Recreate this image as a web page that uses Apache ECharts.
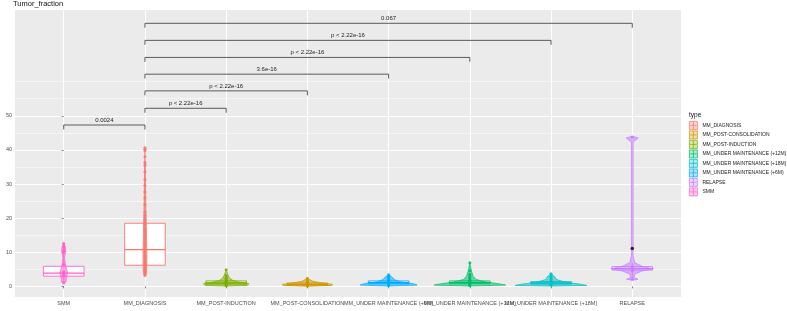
<!DOCTYPE html>
<html>
<head>
<meta charset="utf-8">
<script src="https://cdn.jsdelivr.net/npm/echarts@6/dist/echarts.min.js"></script>
<style>
html, body { margin: 0; padding: 0; background: #fff; }
#chart { width: 787px; height: 311px; }
</style>
</head>
<body>
<div id="chart"></div>
<script>
// phases on the x axis, in plot order
const phases = ['SMM', 'MM_DIAGNOSIS', 'MM_POST-INDUCTION', 'MM_POST-CONSOLIDATION',
  'MM_UNDER MAINTENANCE (+6M)', 'MM_UNDER MAINTENANCE (+12M)', 'MM_UNDER MAINTENANCE (+18M)', 'RELAPSE']
const phaseColors = ['#FF61CC', '#F8766D', '#7CAE00', '#CD9600', '#00A9FF', '#00BE67', '#00BFC4', '#C77CFF']
// legend is alphabetical like ggplot
const legendOrder = ['MM_DIAGNOSIS', 'MM_POST-CONSOLIDATION', 'MM_POST-INDUCTION',
  'MM_UNDER MAINTENANCE (+12M)', 'MM_UNDER MAINTENANCE (+18M)', 'MM_UNDER MAINTENANCE (+6M)', 'RELAPSE', 'SMM']

// min, Q1, median, Q3, max (whiskers)
const boxStats = [
  [1.0, 3.0, 3.9, 5.9, 10.1],
  [3.2, 6.2, 10.8, 18.5, 36.3],
  [0.2, 0.7, 1.0, 1.6, 2.6],
  [0.1, 0.4, 0.6, 1.0, 1.8],
  [0.3, 0.8, 1.1, 1.6, 2.5],
  [0.3, 0.8, 1.1, 1.6, 2.6],
  [0.4, 0.7, 1.0, 1.4, 2.0],
  [2.1, 4.8, 5.2, 5.8, 7.0]
]

// individual samples
const pointValues = [
  [12.6, 12.1, 11.4, 10.6, 10.1, 6.4, 4.3, 4.0, 3.8, 3.3, 1.0],
  [40.6, 40.2, 39.8, 38.0, 36.3, 35.5, 33.6, 31.3, 29.6, 27.7, 25.9, 24.0, 21.8, 20.8, 19.9, 19.3,
    18.6, 18.0, 17.2, 16.5, 16.0, 15.4, 14.8, 14.1, 13.5, 12.8, 12.2, 11.6, 11.0, 10.4, 9.8, 9.2,
    8.6, 8.0, 7.5, 7.0, 6.5, 6.0, 5.5, 5.0, 4.5, 4.0, 3.6, 3.2],
  [4.9, 3.2, 2.6, 2.2, 1.9, 1.6, 1.4, 1.2, 1.0, 0.8, 0.6, 0.4, 0.2],
  [2.4, 1.8, 1.4, 1.1, 0.9, 0.7, 0.5, 0.3, 0.1],
  [3.4, 2.9, 2.5, 2.0, 1.6, 1.3, 1.0, 0.8, 0.5, 0.3],
  [6.9, 4.6, 3.6, 3.0, 2.6, 2.2, 1.8, 1.5, 1.2, 1.0, 0.8, 0.5, 0.3],
  [3.7, 3.0, 2.5, 2.0, 1.6, 1.3, 1.0, 0.7, 0.4],
  [43.8, 5.8, 5.3, 5.0, 4.6, 2.1]
]
const outlierPoints = [[7, 11.1]]

// violin outline: [value, half width in category units]
const violinProfiles = [
  [[1.0, 0], [1.3, 0.03], [2.0, 0.03], [3.0, 0.035], [4.0, 0.05], [5.0, 0.035], [6.5, 0.02], [8.5, 0.01], [10.2, 0.025], [11.5, 0.022], [12.6, 0]],
  [[3.2, 0], [4.0, 0.02], [8.0, 0.025], [14.0, 0.02], [25.0, 0.01], [40.6, 0]],
  [[0.1, 0], [0.3, 0.26], [0.8, 0.28], [1.2, 0.17], [1.8, 0.08], [2.5, 0.04], [3.5, 0.02], [4.9, 0]],
  [[0.05, 0], [0.3, 0.3], [0.6, 0.31], [1.0, 0.18], [1.5, 0.07], [2.0, 0.03], [2.4, 0]],
  [[0.1, 0], [0.4, 0.35], [0.8, 0.3], [1.3, 0.15], [2.0, 0.07], [2.8, 0.04], [3.4, 0]],
  [[0.1, 0], [0.4, 0.44], [0.8, 0.35], [1.3, 0.2], [2.0, 0.08], [3.0, 0.04], [4.5, 0.02], [6.9, 0]],
  [[0.1, 0], [0.3, 0.44], [0.7, 0.35], [1.2, 0.18], [2.0, 0.07], [3.0, 0.04], [3.7, 0]],
  [[1.8, 0], [2.1, 0.07], [2.6, 0.02], [3.6, 0.03], [4.5, 0.12], [5.2, 0.26], [5.9, 0.12], [7.0, 0.03], [9.0, 0.01], [42.3, 0.01], [43.5, 0.075], [44.0, 0]]
]

// pairwise comparisons
const bracketFrom = [0, 1, 1, 1, 1, 1, 1]
const bracketTo = [1, 2, 3, 4, 5, 6, 7]
const bracketY = [47.3, 52.2, 57.3, 62.2, 67.1, 72.1, 77.1]
const bracketLabels = ['0.0024', 'p < 2.22e-16', 'p < 2.22e-16', '3.6e-16', 'p < 2.22e-16', 'p < 2.22e-16', '0.067']

const yTicks = [0, 10, 20, 30, 40, 50]
const yMinorLines = [5, 15, 25, 35, 45, 55, 60]
const xTicks = [0, 1, 2, 3, 4, 5, 6, 7]

const FONT = '"Liberation Sans", Arial, sans-serif'
const BOX_HALF = 0.25
const TIP = 1.3

function rgba (hex, a) {
  const n = parseInt(hex.slice(1), 16)
  return `rgba(${(n >> 16) & 255},${(n >> 8) & 255},${n & 255},${a})`
}

const chart = echarts.init(document.getElementById('chart'), null, { renderer: 'canvas' })

const series = []

// boxes
series.push({
  type: 'custom',
  name: '_box',
  z: 2,
  silent: true,
  data: boxStats.map((b, i) => [i].concat(b)),
  encode: { x: 0, y: [1, 5] },
  renderItem (params, api) {
    const i = api.value(0)
    const c = phaseColors[i]
    const mid = api.coord([i, api.value(3)])
    const lo = api.coord([i, api.value(1)])
    const q1 = api.coord([i - BOX_HALF, api.value(2)])
    const q3 = api.coord([i + BOX_HALF, api.value(4)])
    const hi = api.coord([i, api.value(5)])
    const style = { stroke: c, lineWidth: 0.9, fill: null }
    return {
      type: 'group',
      children: [
        { type: 'line', shape: { x1: lo[0], y1: lo[1], x2: lo[0], y2: q1[1] }, style },
        { type: 'line', shape: { x1: hi[0], y1: q3[1], x2: hi[0], y2: hi[1] }, style },
        { type: 'rect', shape: { x: q1[0], y: q3[1], width: q3[0] - q1[0], height: q1[1] - q3[1] }, style: { stroke: c, lineWidth: 0.9, fill: '#fff' } },
        { type: 'line', shape: { x1: q1[0], y1: mid[1], x2: q3[0], y2: mid[1] }, style: { stroke: c, lineWidth: 1.3 } }
      ]
    }
  }
})

// violins
series.push({
  type: 'custom',
  name: '_violin',
  z: 3,
  silent: true,
  data: phases.map((p, i) => [i, 0]),
  encode: { x: 0, y: 1 },
  renderItem (params, api) {
    const i = api.value(0)
    const prof = violinProfiles[i]
    const right = prof.map(p => api.coord([i + p[1], p[0]]))
    const left = prof.slice().reverse().map(p => api.coord([i - p[1], p[0]]))
    return {
      type: 'polygon',
      shape: { points: right.concat(left) },
      style: { fill: rgba(phaseColors[i], 0.55), stroke: phaseColors[i], lineWidth: 0.7 }
    }
  }
})

// points, one series per phase so the legend picks them up
phases.forEach((p, i) => {
  series.push({
    type: 'scatter',
    name: p,
    z: 4,
    silent: true,
    symbolSize: 3,
    itemStyle: { color: phaseColors[i], opacity: 0.9 },
    data: pointValues[i].map(v => [i, v])
  })
})

series.push({
  type: 'scatter',
  name: '_outlier',
  z: 4,
  silent: true,
  symbolSize: 3.5,
  itemStyle: { color: '#000' },
  data: outlierPoints
})

// comparison brackets
series.push({
  type: 'custom',
  name: '_brackets',
  z: 5,
  silent: true,
  data: bracketY.map((y, k) => [bracketFrom[k], bracketTo[k], y]),
  encode: { x: [0, 1], y: 2 },
  renderItem (params, api) {
    const y = api.value(2)
    const a0 = api.coord([api.value(0), y - TIP])
    const a = api.coord([api.value(0), y])
    const b = api.coord([api.value(1), y])
    const b0 = api.coord([api.value(1), y - TIP])
    return {
      type: 'group',
      children: [
        { type: 'polyline', shape: { points: [a0, a, b, b0] }, style: { stroke: '#4a4a4a', lineWidth: 0.9, fill: null } },
        {
          type: 'text',
          style: {
            x: (a[0] + b[0]) / 2,
            y: a[1] - 2,
            text: bracketLabels[params.dataIndex],
            fill: '#222',
            font: '6px "Liberation Sans", Arial, sans-serif',
            align: 'center',
            verticalAlign: 'bottom'
          }
        }
      ]
    }
  }
})

const options = {
  animation: false,
  backgroundColor: '#fff',
  title: [
    { text: 'Tumor_fraction', left: 13, top: 0, padding: 0, textStyle: { fontSize: 7.5, fontWeight: 'normal', color: '#111', fontFamily: FONT } },
    { text: 'type', left: 689, top: 112, padding: 0, textStyle: { fontSize: 6.5, fontWeight: 'normal', color: '#111', fontFamily: FONT } }
  ],
  grid: {
    left: 15,
    right: 106,
    top: 10,
    bottom: 14,
    outerBoundsMode: 'none',
    containLabel: false,
    show: true,
    backgroundColor: '#EBEBEB',
    borderWidth: 0
  },
  legend: {
    orient: 'vertical',
    left: 689,
    top: 121,
    padding: 0,
    itemWidth: 8,
    itemHeight: 9,
    itemGap: 0.7,
    icon: 'path://M0,0L10,0L10,10L0,10Z M5,0L5,10 M1,5L9,5',
    textStyle: { fontSize: 5, lineHeight: 8, color: '#1a1a1a', fontFamily: FONT, overflow: 'none' },
    data: legendOrder.map(name => {
      const c = phaseColors[phases.indexOf(name)]
      return { name, itemStyle: { color: rgba(c, 0.35), borderColor: c, borderWidth: 0.8 } }
    })
  },
  xAxis: {
    type: 'value',
    min: -0.6,
    max: 7.6,
    name: 'Phases',
    nameLocation: 'middle',
    nameGap: 9,
    nameTextStyle: { fontSize: 6.5, color: '#111', fontFamily: FONT },
    axisLine: { show: false },
    axisTick: { show: true, length: 2, customValues: xTicks, lineStyle: { color: '#333', width: 0.6 } },
    axisLabel: {
      customValues: xTicks,
      margin: 3,
      fontSize: 5.5,
      color: '#4d4d4d',
      fontFamily: FONT,
      formatter: v => phases[Math.round(v)]
    },
    splitLine: { show: true, lineStyle: { color: '#fff', width: 1 } }
  },
  yAxis: [
    {
      type: 'value',
      min: -3.1,
      max: 81,
      name: 'Tumor_Fraction',
      nameLocation: 'middle',
      nameGap: 8,
      nameRotate: 90,
      nameTextStyle: { fontSize: 6.5, color: '#111', fontFamily: FONT },
      axisLine: { show: false },
      axisTick: { show: true, length: 2, customValues: yTicks, lineStyle: { color: '#333', width: 0.6 } },
      axisLabel: { customValues: yTicks, margin: 3, fontSize: 5.5, color: '#4d4d4d', fontFamily: FONT },
      splitLine: { show: true, lineStyle: { color: '#fff', width: 1 } }
    },
    {
      type: 'value',
      min: -3.1,
      max: 81,
      position: 'left',
      axisLine: { show: false },
      axisTick: { show: false, customValues: yMinorLines },
      axisLabel: { show: false, customValues: yMinorLines },
      splitLine: { show: true, lineStyle: { color: '#fff', width: 0.5 } }
    }
  ],
  series
}

chart.setOption(options)
</script>
</body>
</html>
